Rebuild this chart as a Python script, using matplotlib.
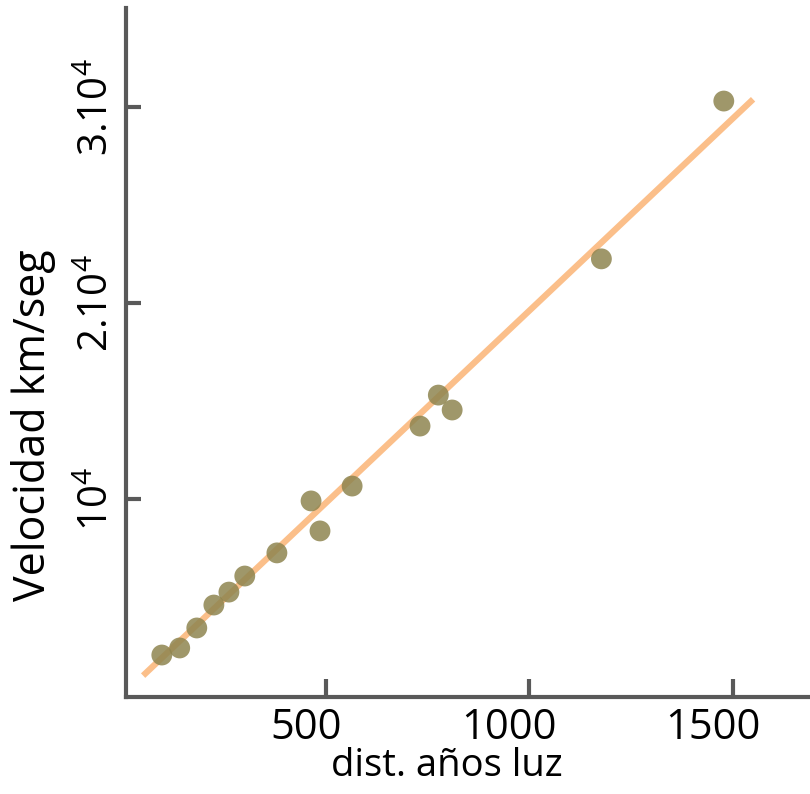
import matplotlib
matplotlib.use("Agg")
import matplotlib.pyplot as plt
import matplotlib.transforms as mtransforms
import numpy as np

# Data
dist = [96, 140, 182, 224, 261, 300, 379, 463, 485, 564, 731, 776, 810, 1177, 1478]
vel = [2040, 2400, 3420, 4590, 5250, 6070, 7250, 9900, 8370, 10660, 13720, 15300, 14540, 22250, 30300]
fit_x = [50, 1550]
fit_slope = 19.6
fit_intercept = 10

xticks = [500, 1000, 1500]
xticklabels = ["500", "1000", "1500"]
yticks = [10000, 20000, 30000]
yticklabels = [r"$\mathregular{10^4}$", r"$\mathregular{2.10^4}$", r"$\mathregular{3.10^4}$"]

plt.rcParams['font.family'] = ['Open Sans', 'DejaVu Sans']
plt.rcParams['mathtext.fontset'] = 'custom'
plt.rcParams['mathtext.rm'] = 'Open Sans'

fig = plt.figure(figsize=(8.1, 7.94), dpi=100)
ax = fig.add_axes([0.1556, 0.1222, 0.8444, 0.8678])

fx = np.array(fit_x, dtype=float)
ax.plot(fx, fit_slope * fx + fit_intercept, color='#FBBF8A', lw=4.5, solid_capstyle='butt', zorder=1)
ax.scatter(dist, vel, s=15**2, color='#8E8550', alpha=0.85, edgecolors='none', zorder=2)

ax.set_xlim(8, 1690)
ax.set_ylim(-100, 35050)
ax.set_xticks(xticks)
ax.set_xticklabels(xticklabels, fontsize=30)
ax.set_yticks(yticks)
ax.set_yticklabels(yticklabels, fontsize=29, rotation=90, va='center')

for s in ['top', 'right']:
    ax.spines[s].set_visible(False)
for s in ['left', 'bottom']:
    ax.spines[s].set_color('#595959')
    ax.spines[s].set_linewidth(3)

ax.tick_params(axis='x', direction='in', length=13, width=3, color='#595959', pad=7)
ax.tick_params(axis='y', direction='in', length=11, width=3, color='#595959', pad=6)

# x tick labels sit slightly left of their ticks in the reference
offset = mtransforms.ScaledTranslation(-20 / 100, 0, fig.dpi_scale_trans)
for lbl in ax.get_xticklabels():
    lbl.set_transform(lbl.get_transform() + offset)

ax.set_xlabel("dist. años luz", fontsize=27.5)
ax.xaxis.set_label_coords(0.469, -0.072)
ax.set_ylabel("Velocidad km/seg", fontsize=31)
ax.yaxis.set_label_coords(-0.102, 0.395)

fig.savefig("out.png", dpi=100)
